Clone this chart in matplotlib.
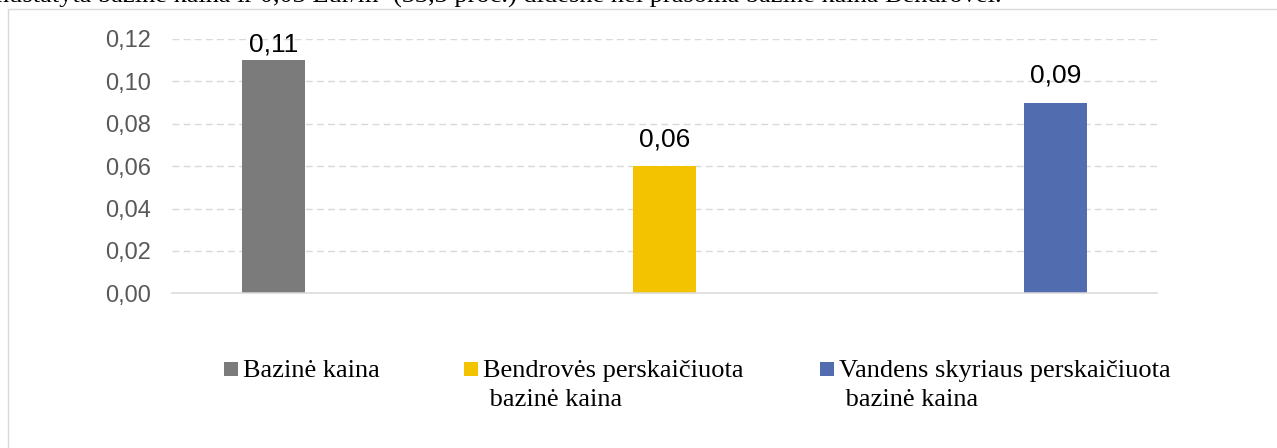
import matplotlib
matplotlib.use('Agg')
import matplotlib.pyplot as plt
from matplotlib.patches import Rectangle

# data
categories = ['Bazinė kaina',
              'Bendrovės perskaičiuota\n bazinė kaina',
              'Vandens skyriaus perskaičiuota\n bazinė kaina']
values = [0.11, 0.06, 0.09]
value_labels = ['0,11', '0,06', '0,09']
yticks = [0.00, 0.02, 0.04, 0.06, 0.08, 0.10, 0.12]
colors = ['#7b7b7b', '#f3c300', '#526cb0']

W, H = 1277, 448
fig = plt.figure(figsize=(W / 100, H / 100), dpi=100)


def fx(px):
    return px / W


def fy(py):
    return 1 - py / H


# chart frame (cut off on the right and bottom in the source picture)
fig.add_artist(Rectangle((fx(8), fy(470)), fx(1400), fy(9) - fy(470),
                         transform=fig.transFigure, fill=False,
                         edgecolor='#d9d9d9', lw=1.0, clip_on=False))

# leftover line of document text above the chart (mostly cropped away)
fig.text(fx(-4), fy(2), 'nustatyta bazinė kaina ir 0,03 Eur/m³ (33,3 proc.) didesnė nei '
         'prašoma bazinė kaina Bendrovei.',
         family='Liberation Serif', fontsize=19, va='baseline', ha='left', color='black')

ax = fig.add_axes([fx(172), fy(293.3), fx(1157) - fx(172), fy(39) - fy(293.3)])
x = range(len(values))
ax.bar(x, values, width=0.161, color=colors, zorder=3)

ax.set_ylim(0, 0.12)
ax.set_xlim(-0.2596, 2.2596)
ax.set_yticks(yticks)
ax.set_yticklabels([('%.2f' % t).replace('.', ',') for t in yticks])
ax.tick_params(axis='y', length=0, pad=15, labelsize=17, labelcolor='#595959')
ax.tick_params(axis='x', length=0, labelbottom=False)
for lbl in ax.get_yticklabels():
    lbl.set_family('Liberation Sans')

ax.yaxis.grid(True, color='#d9d9d9', linestyle=(0, (5, 3)), lw=1.0, zorder=0)
for s in ['top', 'right', 'left']:
    ax.spines[s].set_visible(False)
ax.spines['bottom'].set_color('#d9d9d9')
ax.spines['bottom'].set_linewidth(1.1)
ax.spines['bottom'].set_zorder(4)
# the axis line sits at zero, no dashed line there
ax.yaxis.get_gridlines()[0].set_visible(False)

# value labels, kept inside the plot like in Excel
for xi, v, lab in zip(x, values, value_labels):
    ly = min(v + 0.0094, 0.1143)
    ax.text(xi, ly, lab, ha='center', va='baseline', fontsize=19,
            family='Liberation Sans', color='black')

# legend drawn by hand: marker sits on the first text line
leg_x = [224, 464, 820]
for lx, lab, c in zip(leg_x, categories, colors):
    fig.add_artist(Rectangle((fx(lx), fy(376)), fx(14), fy(362) - fy(376),
                             transform=fig.transFigure, color=c, lw=0))
    for i, line in enumerate(lab.split('\n')):
        fig.text(fx(lx + 19), fy(377 + 28.5 * i), line, family='Liberation Serif',
                 fontsize=19, va='baseline', ha='left', color='black')

fig.savefig('out.png', dpi=100)
